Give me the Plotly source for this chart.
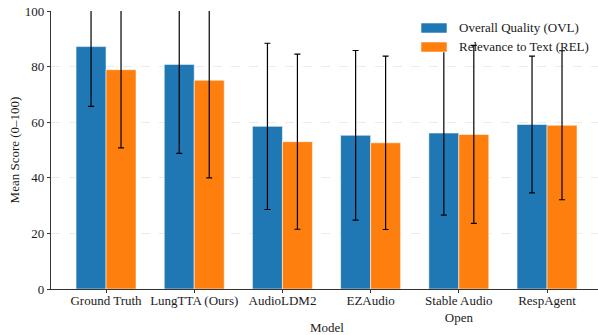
import plotly.graph_objects as go

models = ["Ground Truth", "LungTTA (Ours)", "AudioLDM2", "EZAudio", "Stable Audio<br>Open", "RespAgent"]
ovl_mean = [87.2, 80.8, 58.5, 55.3, 56.1, 59.2]
ovl_sd = [21.5, 32.0, 29.9, 30.5, 29.5, 24.6]
rel_mean = [78.9, 75.1, 53.0, 52.6, 55.6, 58.9]
rel_sd = [28.1, 35.1, 31.5, 31.2, 32.0, 26.8]
series_names = ["Overall Quality (OVL)", "Relevance to Text (REL)"]
colors = ["#1f77b4", "#ff7f0e"]
y_ticks = [0, 20, 40, 60, 80, 100]

FONT = "Liberation Serif, Times New Roman, serif"

fig = go.Figure()
for name, m, s, c in [(series_names[0], ovl_mean, ovl_sd, colors[0]),
                      (series_names[1], rel_mean, rel_sd, colors[1])]:
    fig.add_trace(go.Bar(
        x=models, y=m, name=name,
        marker=dict(color=c, line=dict(color="rgba(255,255,255,0.55)", width=1)),
        error_y=dict(type="data", array=s, visible=True, color="black", thickness=1.2, width=3),
        showlegend=False,
    ))

# legend drawn manually (matplotlib style patches)
leg_x0 = (421 - 51) / 547
leg_x1 = (447 - 51) / 547
txt_x = (457 - 51) / 547
for i, (name, c) in enumerate(zip(series_names, colors)):
    yc = 28 + i * 19
    y0 = (289 - (yc + 5)) / 278
    y1 = (289 - (yc - 5)) / 278
    fig.add_shape(type="rect", xref="paper", yref="paper", x0=leg_x0, x1=leg_x1, y0=y0, y1=y1,
                  fillcolor=c, line=dict(color="rgba(255,255,255,0.55)", width=1), layer="above")
    fig.add_annotation(xref="paper", yref="paper", x=txt_x, y=(289 - yc) / 278, text=name,
                       showarrow=False, xanchor="left", yanchor="middle",
                       font=dict(family=FONT, size=13, color="#1a1a1a"))

fig.add_annotation(xref="paper", yref="paper", x=(327 - 51) / 547, y=(289 - 327) / 278, text="Model",
                   showarrow=False, xanchor="center", yanchor="middle",
                   font=dict(family=FONT, size=13, color="#1a1a1a"))

fig.update_layout(
    width=598, height=335,
    margin=dict(l=51, r=0, t=11, b=46, autoexpand=False),
    paper_bgcolor="white", plot_bgcolor="white",
    barmode="group", bargap=0.32, bargroupgap=0,
    font=dict(family=FONT, size=13, color="#1a1a1a"),
    xaxis=dict(range=[-0.624, 5.578], showline=True, linecolor="#333", linewidth=1.2,
               ticks="outside", ticklen=3, tickcolor="#333", showgrid=False,
               ticklabelstandoff=-4, automargin=False,
               tickfont=dict(family=FONT, size=13, color="#1a1a1a")),
    yaxis=dict(range=[0, 100], tickvals=y_ticks, showline=True, linecolor="#333", linewidth=1.2,
               ticks="outside", ticklen=3, tickcolor="#333", automargin=False,
               showgrid=True, gridcolor="#ebebeb", griddash="dash", gridwidth=0.8,
               zeroline=False,
               title=dict(text="Mean Score (0–100)", standoff=2, font=dict(family=FONT, size=13, color="#1a1a1a")),
               tickfont=dict(family=FONT, size=13, color="#1a1a1a")),
)

fig.write_html("out.html", config={"displayModeBar": False},
               post_script="document.body.style.margin='0';")
